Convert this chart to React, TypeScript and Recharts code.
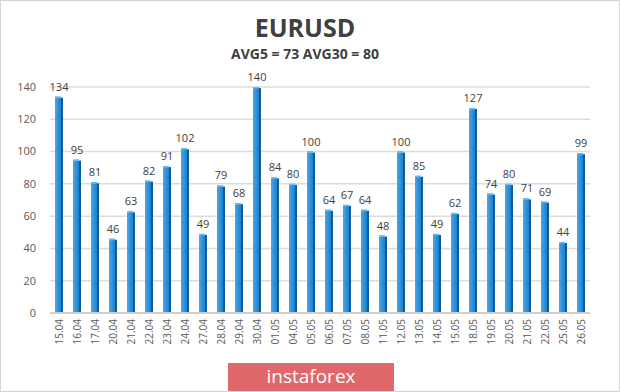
import { Bar, BarChart, CartesianGrid, LabelList, XAxis, YAxis } from "recharts";

document.body.style.margin = "0";

const days = [
  "15.04", "16.04", "17.04", "20.04", "21.04", "22.04", "23.04", "24.04", "27.04", "28.04",
  "29.04", "30.04", "01.05", "04.05", "05.05", "06.05", "07.05", "08.05", "11.05", "12.05",
  "13.05", "14.05", "15.05", "18.05", "19.05", "20.05", "21.05", "22.05", "25.05", "26.05",
];
const ranges = [
  134, 95, 81, 46, 63, 82, 91, 102, 49, 79,
  68, 140, 84, 80, 100, 64, 67, 64, 48, 100,
  85, 49, 62, 127, 74, 80, 71, 69, 44, 99,
];
const yTicks = [0, 20, 40, 60, 80, 100, 120, 140];

const data = days.map((day, i) => ({ day, value: ranges[i] }));

const font = "'Open Sans', 'DejaVu Sans', sans-serif";

function Column(props: any) {
  const { x, y, width, height } = props;
  if (!height || height <= 0) return null;
  const side = 2;
  return (
    <g>
      <rect x={x} y={y} width={width - side} height={height} fill="url(#barFill)" />
      <rect x={x + width - side} y={y + 1} width={side} height={height - 1} fill="#0d5d9c" />
      <rect x={x} y={y} width={width - side} height={1.5} fill="#6bb8ec" />
    </g>
  );
}

function DayTick(props: any) {
  const { x, y, payload } = props;
  return (
    <text
      x={x}
      y={y}
      transform={`rotate(-90, ${x}, ${y})`}
      textAnchor="end"
      dominantBaseline="central"
      fontSize={10}
      fill="#595959"
      fontFamily={font}
    >
      {payload.value}
    </text>
  );
}

export default function App() {
  return (
    <div
      style={{
        position: "relative",
        width: 618,
        height: 390,
        border: "1px solid #d4d4d4",
        background: "#fff",
        fontFamily: font,
        overflow: "hidden",
      }}
    >
      <div
        style={{
          position: "absolute",
          top: 12,
          left: 0,
          width: 608,
          textAlign: "center",
          fontSize: 25,
          lineHeight: "28px",
          fontWeight: 700,
          color: "#404040",
        }}
      >
        EURUSD
      </div>
      <div
        style={{
          position: "absolute",
          top: 45,
          left: 0,
          width: 608,
          textAlign: "center",
          fontSize: 14,
          lineHeight: "16px",
          fontWeight: 700,
          color: "#404040",
        }}
      >
        AVG5 = 73 AVG30 = 80
      </div>
      <div style={{ position: "absolute", left: -1, top: -1 }}>
        <BarChart
          width={620}
          height={392}
          data={data}
          margin={{ top: 87, right: 30, bottom: 0, left: 0 }}
          barCategoryGap={5}
        >
          <defs>
            <linearGradient id="barFill" x1="0" y1="0" x2="1" y2="0">
              <stop offset="0%" stopColor="#4aa6e6" />
              <stop offset="100%" stopColor="#1b7fcc" />
            </linearGradient>
          </defs>
          <CartesianGrid vertical={false} stroke="#dcdcdc" strokeWidth={1.5} />
          <YAxis
            domain={[0, 140]}
            ticks={yTicks}
            width={50}
            axisLine={false}
            tickLine={false}
            tickSize={0}
            tickMargin={14}
            tick={{ fontSize: 11, fill: "#595959", fontFamily: font }}
          />
          <XAxis
            dataKey="day"
            height={79}
            axisLine={{ stroke: "#cfcfcf", strokeWidth: 2 }}
            tickLine={false}
            interval={0}
            tick={<DayTick />}
            tickSize={0}
            tickMargin={6}
          />
          <Bar dataKey="value" shape={<Column />} isAnimationActive={false}>
            <LabelList
              dataKey="value"
              position="top"
              offset={6}
              fontSize={11}
              fill="#404040"
              fontFamily={font}
            />
          </Bar>
        </BarChart>
      </div>
      <div
        style={{
          position: "absolute",
          left: 227,
          top: 362,
          width: 166,
          height: 30,
          background: "#e0676a",
          color: "#fff",
          fontSize: 19,
          lineHeight: "27px",
          textAlign: "center",
          fontFamily: "'Open Sans', sans-serif",
          fontWeight: 400,
        }}
      >
        instaforex
      </div>
    </div>
  );
}
